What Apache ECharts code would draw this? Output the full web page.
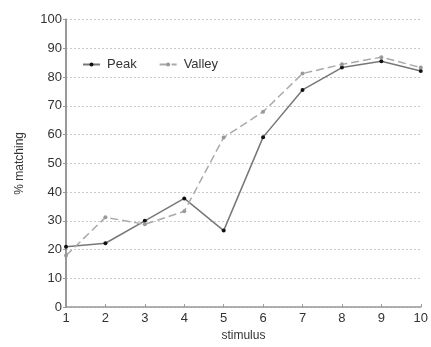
<!DOCTYPE html>
<html><head><meta charset="utf-8">
<script src="https://cdn.jsdelivr.net/npm/echarts@6/dist/echarts.min.js"></script>
<style>html,body{margin:0;padding:0;background:#fff}#c{width:431px;height:347px}</style>
</head><body><div id="c"></div>
<script>
var stimulus = [1,2,3,4,5,6,7,8,9,10];
var peak = [21, 22.2, 30, 37.8, 26.6, 59.1, 75.5, 83.3, 85.5, 82.1];
var valley = [17.9, 31.2, 28.8, 33.3, 59.0, 67.9, 81.2, 84.4, 86.9, 83.3];

function pairs(xs, ys){ return xs.map(function(x,i){return [x, ys[i]];}); }

var chart = echarts.init(document.getElementById('c'));
chart.setOption({
  animation: false,
  textStyle: {fontFamily: 'Liberation Sans, Arial, sans-serif'},
  grid: {left: 66, right: 7, top: 19.5, bottom: 35.5},
  legend: {
    left: 82, top: 58, padding: 0, itemWidth: 17, itemHeight: 5, itemGap: 22,
    textStyle: {fontSize: 13, color: '#333', padding: [0,0,0,2]},
    data: ['Peak', 'Valley']
  },
  xAxis: {
    type: 'value', min: 1, max: 10, interval: 1,
    name: 'stimulus', nameLocation: 'middle', nameGap: 21,
    nameTextStyle: {fontSize: 12, color: '#333'},
    axisLine: {lineStyle: {color: '#999', width: 1.5}},
    axisTick: {inside: true, length: 3, lineStyle: {color: '#999'}},
    axisLabel: {fontSize: 13, color: '#333', margin: 5},
    splitLine: {show: false}
  },
  yAxis: {
    type: 'value', min: 0, max: 100, interval: 10,
    name: '% matching', nameLocation: 'middle', nameGap: 40,
    nameTextStyle: {fontSize: 12, color: '#333'},
    axisLine: {show: true, lineStyle: {color: '#999', width: 2}},
    axisTick: {show: true, length: 3, lineStyle: {color: '#999'}},
    axisLabel: {fontSize: 13, color: '#333', margin: 4},
    splitLine: {show: true, lineStyle: {color: '#ccc', type: [2,2], width: 1}}
  },
  series: [
    {name: 'Peak', type: 'line', data: pairs(stimulus, peak),
     symbol: 'circle', symbolSize: 4,
     itemStyle: {color: '#111'},
     lineStyle: {color: '#777', width: 1.5}},
    {name: 'Valley', type: 'line', data: pairs(stimulus, valley),
     symbol: 'circle', symbolSize: 4,
     itemStyle: {color: '#999'},
     lineStyle: {color: '#aaa', width: 1.5, type: [8,4]}}
  ]
});
</script></body></html>
